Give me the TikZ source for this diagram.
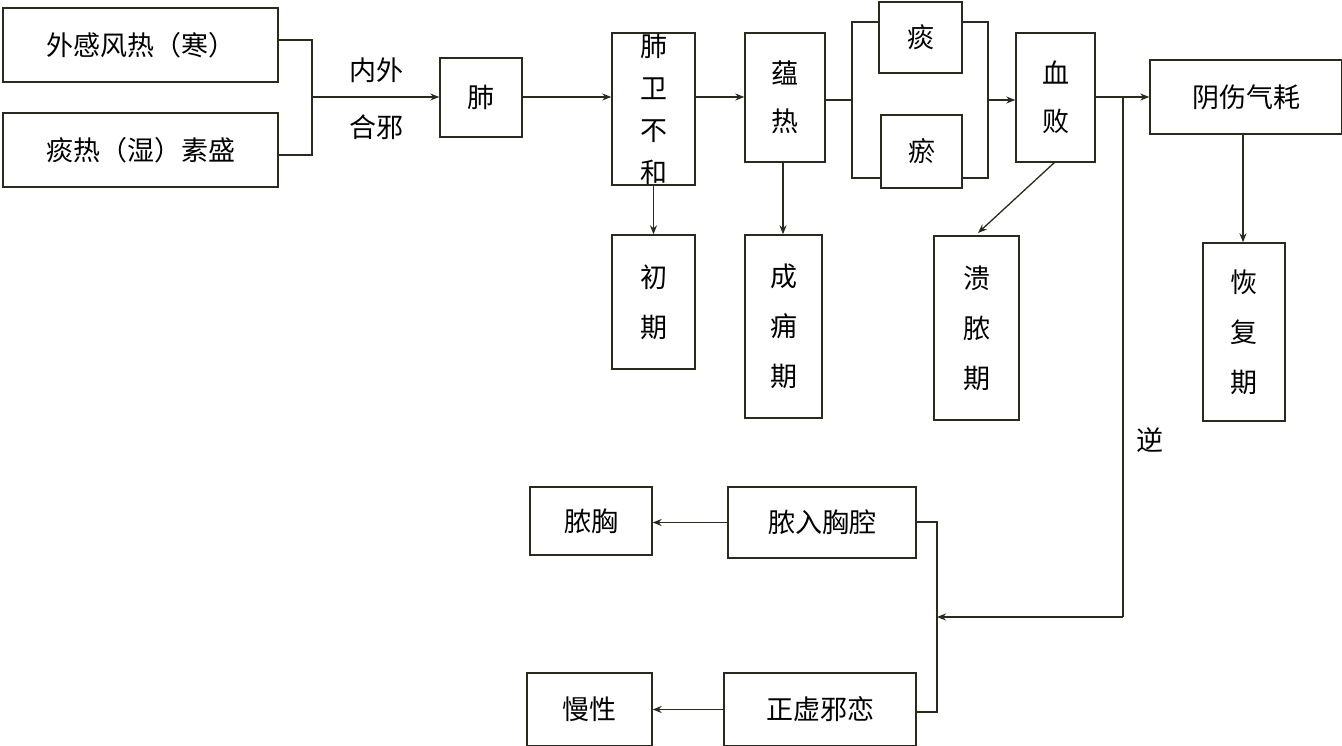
\documentclass[tikz,border=0pt]{standalone}
\usepackage{fontspec}
\newfontfamily\cjk{Noto Sans CJK SC}
\usetikzlibrary{arrows.meta}
\definecolor{ln}{HTML}{2A2A1E}
\begin{document}
\begin{tikzpicture}[x=1pt,y=-1pt,
  bx/.style={draw=ln,line width=1.4pt,inner sep=0pt,align=center,font=\cjk\fontsize{27}{44}\selectfont},
  ln/.style={draw=ln,line width=1.3pt},
  ar/.style={ln,-{Stealth[length=9pt,width=7pt]}},
  lb/.style={font=\cjk\fontsize{27}{44}\selectfont,inner sep=0pt}]
\useasboundingbox (0,0) rectangle (1342,746);
\fill[white] (0,0) rectangle (1342,746);
\newcommand{\bxn}[6]{\node[bx,minimum width=#4-#2,minimum height=#5-#3] (#1) at ({(#2+#4)/2},{(#3+#5)/2}) {#6};}
\bxn{a}{3}{8}{278}{82}{外感风热（寒）}
\bxn{b}{3}{113}{278}{187}{痰热（湿）素盛}
\bxn{fei}{440}{58}{522}{137}{肺}
\bxn{fw}{612}{33}{695}{185}{肺\\[-2pt]卫\\[-2pt]不\\[-2pt]和}
\bxn{yr}{745}{33}{825}{162}{蕴\\[4pt]热}
\bxn{tan}{879}{2}{962}{73}{痰}
\bxn{yu}{881}{115}{962}{188}{瘀}
\bxn{xb}{1016}{33}{1095}{162}{血\\[4pt]败}
\bxn{ys}{1150}{60}{1342}{134}{阴伤气耗}
\bxn{cq}{612}{235}{695}{369}{初\\[6pt]期}
\bxn{cy}{745}{235}{822}{418}{成\\[6pt]痈\\[6pt]期}
\bxn{kn}{934}{236}{1019}{420}{溃\\[6pt]脓\\[6pt]期}
\bxn{hf}{1203}{243}{1285}{421}{恢\\[6pt]复\\[6pt]期}
\bxn{nr}{728}{487}{916}{558}{脓入胸腔}
\bxn{nx}{530}{487}{652}{555}{脓胸}
\bxn{zx}{724}{673}{916}{746}{正虚邪恋}
\bxn{mx}{527}{673}{652}{746}{慢性}
\coordinate (j1) at (312,97);
\coordinate (j2) at (852,100);
\coordinate (j3) at (988,100);
\coordinate (j4) at (1123,97);
\coordinate (j5) at (1123,617);
\coordinate (j6) at (937,617);
\draw[ln] (a.east|-0,40) -- (312,40) -- (312,155) -- (b.east|-0,155);
\draw[ar] (j1) -- (fei.west|-j1);
\node[lb] at (376,70) {内外};
\node[lb] at (376,127) {合邪};
\draw[ar] (fei.east|-j1) -- (fw.west|-j1);
\draw[ar] (fw.east|-j1) -- (yr.west|-j1);
\draw[ln] (yr.east|-j2) -- (j2);
\draw[ln] (tan.west|-0,22) -- (852,22) -- (852,178) -- (yu.west|-0,178);
\draw[ln] (tan.east|-0,22) -- (988,22) -- (988,178) -- (yu.east|-0,178);
\draw[ar] (j3) -- (xb.west|-j3);
\draw[ar] (xb.east|-j4) -- (ys.west|-j4);
\draw[ar] (fw.south) -- (cq.north);
\draw[ar] (yr.south-|783,0) -- (cy.north-|783,0);
\draw[ar] (1055,162) -- (978,233);
\draw[ar] (ys.south-|1243,0) -- (hf.north-|1243,0);
\draw[ln] (j4) -- (j5);
\draw[ar] (j5) -- (j6);
\node[lb] at (1150,440) {逆};
\draw[ln] (nr.east|-0,522) -- (937,522) -- (937,712) -- (zx.east|-0,712);
\draw[ar] (nr.west) -- (nx.east|-nr.west);
\draw[ar] (zx.west) -- (mx.east|-zx.west);
\end{tikzpicture}
\end{document}
